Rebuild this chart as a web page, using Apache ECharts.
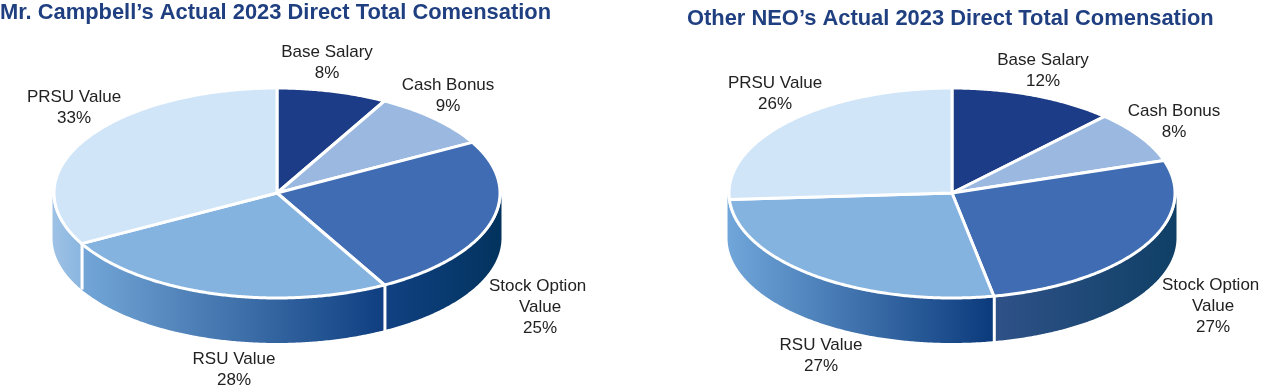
<!DOCTYPE html>
<html><head><meta charset="utf-8">
<style>html,body{margin:0;padding:0;background:#fff}#c{width:1264px;height:392px}</style>
<script src="https://cdn.jsdelivr.net/npm/echarts@6/dist/echarts.min.js"></script>
</head><body><div id="c"></div>
<script>
// ---- data ----
const categories = ['Base Salary', 'Cash Bonus', 'Stock Option\nValue', 'RSU Value', 'PRSU Value'];
// Wedge sizes as drawn. In the left pie the RSU wedge is drawn at 25 of 100 although it is printed as 28%.
const campbellValues = [8, 9, 25, 25, 33];
const campbellPrinted = ['8%', '9%', '25%', '28%', '33%'];
const otherValues = [12, 8, 27, 27, 26];
const otherPrinted = ['12%', '8%', '27%', '27%', '26%'];
const titles = ['Mr. Campbell\u2019s Actual 2023 Direct Total Comensation', 'Other NEO\u2019s Actual 2023 Direct Total Comensation'];

// ---- layout and style ----
const topColors = ['#1d3c87', '#9ab8e0', '#3f6cb2', '#85b3e0', '#d1e5f8'];
const wallStops = [null, null, ['#114182', '#02335e'], ['#74a7d8', '#0e3e80'], ['#9fc2e6', '#8ab6e0']];
const wallStopsRight = [null, null, ['#2f5288', '#0f3f66'], ['#70a6da', '#0b3a7c'], ['#70a6da', '#70a6da']];
const leftLabels = [[327, 63], [448, 96], [540, 307], [234, 370], [74, 108]];
const rightLabels = [[1043, 71], [1174, 122], [1213, 306], [821, 356], [775, 94]];
const pies = [
  { cx: 277, cy: 193, rx: 223, ry: 105, depth: 45, values: campbellValues, printed: campbellPrinted, labels: leftLabels, walls: wallStops },
  { cx: 952, cy: 193, rx: 223, ry: 105, depth: 45, values: otherValues, printed: otherPrinted, labels: rightLabels, walls: wallStopsRight }
];

function rowsOf(values) { return values.map((v, i) => [i, v]); }

function pieRender(pie) {
  const total = pie.values.reduce((a, b) => a + b, 0);
  const wallGrow = 1.5;
  const pt = (deg, dy, grow) => {
    const a = deg * Math.PI / 180;
    return [pie.cx + (pie.rx + (grow || 0)) * Math.sin(a), pie.cy - pie.ry * Math.cos(a) + (dy || 0)];
  };
  const arc = (from, to, dy, grow) => {
    const out = [];
    const n = Math.max(2, Math.ceil((to - from) * 2));
    for (let k = 0; k <= n; k++) out.push(pt(from + (to - from) * k / n, dy, grow));
    return out;
  };
  return function (params, api) {
    const idx = api.value(0);
    const val = api.value(1);
    let before = 0;
    for (let i = 0; i < idx; i++) before += pie.values[i];
    const start = before / total * 360;
    const end = (before + val) / total * 360;
    const children = [];
    // visible outer wall: lower half of the ellipse, 90..270 degrees clockwise from top
    const ws = Math.max(start, 90), we = Math.min(end, 270);
    if (we > ws) {
      const top = arc(ws, we, 0, wallGrow);
      const bottom = arc(ws, we, pie.depth, wallGrow).reverse();
      const xs = top.map(p => p[0]);
      const x0 = Math.min.apply(null, xs), x1 = Math.max.apply(null, xs);
      const stops = pie.walls[idx];
      children.push({
        type: 'polygon', z2: 1,
        shape: { points: top.concat(bottom) },
        style: {
          fill: new echarts.graphic.LinearGradient(x0, 0, x1, 0, [
            { offset: 0, color: stops[0] }, { offset: 1, color: stops[1] }
          ], true),
          stroke: null
        }
      });
      // white divider on the wall at the wedge's clockwise end, unless it sits on the silhouette
      if (end > 90 && end < 264) {
        const p = pt(end, 0);
        children.push({
          type: 'line', z2: 2,
          shape: { x1: p[0] + 0.5, y1: p[1], x2: p[0] + 0.5, y2: p[1] + pie.depth + 1 },
          style: { stroke: '#fff', lineWidth: 3 }
        });
      }
    }
    // top face
    children.push({
      type: 'polygon', z2: 3,
      shape: { points: [[pie.cx, pie.cy]].concat(arc(start, end, 0)) },
      style: { fill: topColors[idx], stroke: '#fff', lineWidth: 3, lineJoin: 'round' }
    });
    // label; the trailing space nudges a wrapped first line left, as in the reference
    const pos = pie.labels[idx];
    children.push({
      type: 'text', z2: 4,
      style: {
        x: pos[0], y: pos[1],
        text: categories[idx].replace('\n', ' \n') + '\n' + pie.printed[idx],
        fill: '#222222',
        font: '17px "Liberation Sans", Arial, sans-serif',
        lineHeight: 21,
        align: 'center', verticalAlign: 'middle'
      }
    });
    return { type: 'group', children };
  };
}

const titleStyle = { color: '#1f3f80', fontFamily: '"Liberation Sans", Arial, sans-serif', fontWeight: 'bold', fontSize: 21.9 };
const chart = echarts.init(document.getElementById('c'), null, { renderer: 'canvas' });
chart.setOption({
  animation: false,
  backgroundColor: '#fff',
  title: [
    { text: titles[0], left: 0, top: 2, padding: 0, textStyle: titleStyle },
    { text: titles[1], left: 687, top: 8, padding: 0, textStyle: titleStyle }
  ],
  series: pies.map(pie => ({
    type: 'custom',
    coordinateSystem: 'none',
    renderItem: pieRender(pie),
    data: rowsOf(pie.values),
    silent: true
  }))
});
</script></body></html>
